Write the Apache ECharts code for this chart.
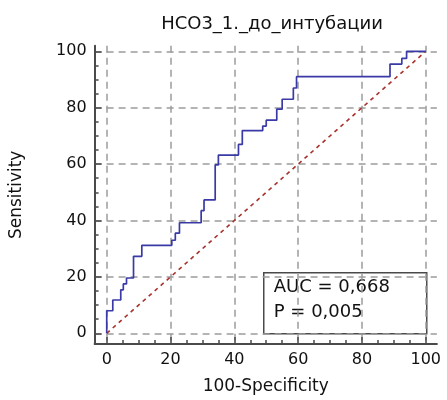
<!DOCTYPE html>
<html>
<head>
<meta charset="utf-8">
<script src="https://cdn.jsdelivr.net/npm/echarts@6/dist/echarts.min.js"></script>
<style>
  html, body { margin: 0; padding: 0; background: #fff; }
  #chart { width: 447px; height: 400px; }
</style>
</head>
<body>
<div id="chart"></div>
<script>
// ROC curve corners (100-Specificity, Sensitivity)
const fpr = [0, 0, 1.9, 1.9, 4.4, 4.4, 5.2, 5.2, 6.2, 6.2, 8.4, 8.4, 11, 11, 20.4, 20.4, 21.5, 21.5, 22.8, 22.8,
  29.6, 29.6, 30.5, 30.5, 34, 34, 35, 35, 41.3, 41.3, 42.5, 42.5, 48.9, 48.9, 50, 50, 53.3, 53.3, 55, 55,
  58.5, 58.5, 59.5, 59.5, 88.8, 88.8, 92.5, 92.5, 94, 94, 100]
const tpr = [0, 8, 8, 11.8, 11.8, 15.4, 15.4, 17.5, 17.5, 19.6, 19.6, 27.3, 27.3, 31.2, 31.2, 33, 33, 35.5, 35.5, 39.2,
  39.2, 43.5, 43.5, 47.3, 47.3, 59.7, 59.7, 63.2, 63.2, 67, 67, 71.9, 71.9, 73.5, 73.5, 75.6, 75.6, 79.5, 79.5, 83,
  83, 87, 87, 91, 91, 95.5, 95.5, 97.5, 97.5, 100, 100]
const diagX = [0, 100]
const diagY = [0, 100]
const majorTicks = [0, 20, 40, 60, 80, 100]
const minorTicks = [0, 5, 10, 15, 20, 25, 30, 35, 40, 45, 50, 55, 60, 65, 70, 75, 80, 85, 90, 95, 100]
const titleText = 'HCO3_1._до_интубации'
const aucText = 'AUC = 0,668'
const pText = 'P = 0,005'

const font = 'DejaVu Sans'
const axisColor = '#4a4a4a'
const gridLine = { show: true, lineStyle: { color: '#9c9c9c', width: 1.5, type: [7, 5] } }

const mainAxis = (extra) => Object.assign({
  type: 'value',
  axisLine: { show: true, onZero: false, lineStyle: { color: axisColor, width: 2 } },
  axisTick: { show: true, inside: true, length: 7, customValues: majorTicks, lineStyle: { color: axisColor, width: 1.5 } },
  axisLabel: { customValues: majorTicks, color: '#111', fontFamily: font, fontSize: 16 },
  splitLine: gridLine,
  nameLocation: 'middle',
  nameTextStyle: { color: '#111', fontFamily: font, fontSize: 17 }
}, extra)

const minorAxis = (extra) => Object.assign({
  type: 'value',
  axisLine: { show: false, onZero: false },
  axisTick: { show: true, inside: true, length: 4, customValues: minorTicks, lineStyle: { color: axisColor, width: 1.5 } },
  axisLabel: { show: false },
  splitLine: { show: false }
}, extra)

const chart = echarts.init(document.getElementById('chart'))
chart.setOption({
  animation: false,
  backgroundColor: '#fff',
  title: {
    text: titleText,
    left: 267,
    top: 10,
    textAlign: 'center',
    textStyle: { color: '#111', fontFamily: font, fontSize: 18, fontWeight: 'normal' }
  },
  grid: { left: 94.6, right: 10.1, top: 45.7, bottom: 56, outerBoundsMode: 'none' },
  xAxis: [
    mainAxis({ min: -3.8, max: 103.5, position: 'bottom', name: '100-Specificity', nameGap: 34 }),
    minorAxis({ min: -3.8, max: 103.5, position: 'bottom' })
  ],
  yAxis: [
    mainAxis({ min: -3.8, max: 102, position: 'left', name: 'Sensitivity', nameGap: 70 }),
    minorAxis({ min: -3.8, max: 102, position: 'left' })
  ],
  series: [
    {
      type: 'line',
      data: diagX.map((x, i) => [x, diagY[i]]),
      symbol: 'none',
      lineStyle: { color: '#a8322d', width: 1.6, type: [4, 4] },
      z: 3
    },
    {
      type: 'line',
      data: fpr.map((x, i) => [x, tpr[i]]),
      symbol: 'none',
      lineStyle: { color: '#3a3aa6', width: 1.7 },
      z: 4
    }
  ],
  graphic: [
    {
      type: 'group',
      left: 263,
      top: 272,
      z: 100,
      children: [
        {
          type: 'rect',
          shape: { x: 0, y: 0, width: 163, height: 61 },
          style: { fill: '#fff', stroke: '#4a4a4a', lineWidth: 1.5 }
        },
        {
          type: 'text',
          x: 10, y: 15,
          style: { text: aucText, fill: '#111', font: '18px "DejaVu Sans"', verticalAlign: 'middle' }
        },
        {
          type: 'text',
          x: 10, y: 40,
          style: { text: pText, fill: '#111', font: '18px "DejaVu Sans"', verticalAlign: 'middle' }
        }
      ]
    }
  ]
})
</script>
</body>
</html>
